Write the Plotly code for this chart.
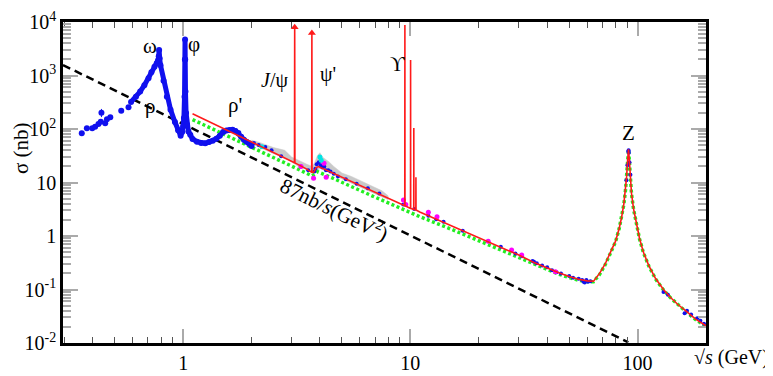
import numpy as np
import plotly.graph_objects as go

# ---------------- data ----------------
# sparse low-energy hadronic data (blue)
low_x = [0.358, 0.377, 0.398, 0.41, 0.424, 0.434, 0.437, 0.454, 0.462, 0.478, 0.534, 0.575]
low_y = [83, 103, 103, 110, 124, 137, 202, 128, 152, 165, 220, 255]
low_err = [4, 5, 5, 6, 8, 9, 35, 8, 9, 10, 12, 14]

# dense resonance region rho/omega/phi/rho' (blue)
res_x = [0.59, 0.62, 0.647, 0.675, 0.704, 0.725, 0.748, 0.765, 0.775, 0.781, 0.784, 0.788,
         0.795, 0.82, 0.848, 0.88, 0.92, 0.95, 0.975, 0.99, 1.0, 1.008, 1.014, 1.018,
         1.0195, 1.021, 1.024, 1.03, 1.04, 1.055, 1.075, 1.1, 1.15, 1.2, 1.25, 1.3, 1.35,
         1.4, 1.45, 1.5, 1.55, 1.6, 1.65, 1.7, 1.75, 1.8, 1.85, 1.9, 1.95, 2.0]
res_y = [320, 400, 500, 660, 890, 1150, 1460, 1700, 1900, 2300, 3000, 2100,
         1550, 800, 400, 230, 135, 95, 75, 88, 110, 160, 400, 2000,
         4700, 2000, 500, 200, 120, 90, 78, 65, 58, 55, 54, 57, 60,
         66, 75, 88, 94, 96, 97, 92, 84, 72, 63, 58, 54, 48]

# 3-loop pQCD prediction with narrow resonances (red)
qcd_x = [1.1, 1.3, 1.6, 2.0, 2.5, 3.0, 3.09, 3.097, 3.104, 3.5, 3.68, 3.686, 3.692, 3.75,
         3.85, 3.94, 4.5, 5.0, 6.0, 7.0, 8.0, 9.0, 9.45, 9.46, 9.47, 9.97, 10.015, 10.023,
         10.031, 10.35, 10.355, 10.36, 10.57, 10.58, 10.59, 11, 15, 20, 25, 30, 35, 40, 45,
         50, 55, 60, 64, 68, 72, 76, 80, 83, 85, 87, 88.5, 89.5, 90.3, 91.2, 92.0, 92.8,
         94, 96, 98, 102, 106, 112, 120, 130, 140, 150, 165, 180, 200]
qcd_y = [193, 137, 89, 56, 35.6, 24.4, 23.5, 8000, 23.3, 17.8, 15.5, 6200, 15.4, 15.5,
         19, 19.8, 15.3, 12.5, 8.8, 6.55, 5.06, 4.03, 3.68, 8800, 3.67, 3.3, 3.28, 1950,
         3.27, 3.13, 104, 3.12, 3.07, 12.6, 3.06, 2.81, 1.58, 0.93, 0.62, 0.44, 0.32, 0.25, 0.205,
         0.175, 0.155, 0.145, 0.143, 0.2, 0.3, 0.5, 0.8, 1.4, 2.2, 4.0, 7.5, 13, 25, 41.7, 26, 13,
         6.3, 3.2, 2.0, 0.9, 0.5, 0.28, 0.16, 0.1, 0.07, 0.053, 0.038, 0.028, 0.021]

# off-scale resonances (arrow heads)
arrow_x = [3.097, 3.686]
arrow_y = [8000, 6200]

# naive quark-parton model (green dots)
green_x = [1.1, 1.3, 1.6, 2.0, 2.5, 3.0, 3.5, 3.7, 3.8, 3.9, 4.5, 5, 6, 7, 8, 9, 10, 11, 15, 20,
           25, 30, 35, 40, 45, 50, 55, 60, 64, 68, 72, 76, 80, 83, 85, 87, 88.5, 89.5, 90.3,
           91.2, 92.0, 92.8, 94, 96, 98, 102, 106, 112, 120, 130, 140, 150, 165, 180, 200]
green_y = [150, 108, 72, 45.5, 29, 20.3, 14.8, 13.3, 14.5, 16, 12.3, 10.0, 7.1, 5.3, 4.15, 3.3,
           2.7, 2.3, 1.36, 0.81, 0.55, 0.4, 0.3, 0.235, 0.193, 0.167, 0.149, 0.14, 0.14, 0.19,
           0.29, 0.48, 0.78, 1.38, 2.15, 3.9, 7.3, 12.7, 24.5, 41, 25.5, 12.7, 6.2, 3.15, 1.97,
           0.88, 0.49, 0.275, 0.157, 0.098, 0.069, 0.052, 0.037, 0.0275, 0.0205]

# gray band of data between 2 and 8 GeV
gray_x = [2.0, 2.2, 2.5, 2.8, 3.0, 3.2, 3.5, 3.7, 3.8, 3.9, 4.0, 4.1, 4.2, 4.4, 4.6, 4.8,
          5.0, 5.5, 6.0, 6.5, 7.0, 7.5, 8.0]
gray_lo = [52, 43, 34, 28, 24, 20, 17, 15.5, 15, 16, 18, 18, 17, 15, 13.5, 12.5, 11.5, 9.5,
           8.0, 7.0, 6.0, 5.3, 4.7]
gray_hi = [62, 55, 45, 40, 30, 26, 22, 20, 24, 32, 36, 30, 28, 24, 20, 17, 15, 13, 11, 9.5,
           8.2, 7.0, 5.6]

# other data points (blue, magenta, cyan)
blue_x = [2.05, 2.15, 2.3, 2.45, 2.7, 3.3, 3.55, 3.78, 3.82, 3.87, 3.95, 4.03, 4.1, 4.18,
          4.25, 4.35, 4.45, 4.6, 4.8, 5.2, 5.8, 6.5, 7.3, 9.3, 10.4, 12, 13, 14, 17, 22, 25,
          29, 31, 34.5, 35, 36, 38, 40, 42, 44, 46, 50, 52, 55, 57, 57.8, 58.5, 59.5, 60.5,
          62, 89.3, 90.2, 91.0, 91.3, 91.5, 92.1, 93.0, 130, 136, 161, 165, 172, 183, 189, 196]
blue_y = [55, 50, 46, 40, 31, 20, 17, 16, 18, 22, 24, 21, 19, 20, 17, 17, 16, 14.5, 13,
          11.5, 9.5, 7.8, 6.2, 3.9, 3.2, 2.4, 2.05, 1.85, 1.25, 0.8, 0.63, 0.47, 0.42, 0.34,
          0.33, 0.31, 0.28, 0.26, 0.23, 0.21, 0.2, 0.178, 0.165, 0.158, 0.15, 0.14, 0.135,
          0.15, 0.14, 0.142, 11, 21, 38, 40, 36, 24, 14, 0.09, 0.08, 0.036, 0.04, 0.034,
          0.029, 0.026, 0.023]
mag_x = [3.3, 3.75, 4.17, 4.26, 9.32, 9.55, 12.0, 13.1, 22, 27.9, 30.9, 43.5]
mag_y = [20, 12, 22.9, 12.5, 4.7, 3.9, 2.77, 2.3, 0.8, 0.547, 0.44, 0.215]
cyan_x = [2.22, 4.0, 4.05]
cyan_y = [46.8, 30, 26]

# 87 nb / s reference line
dash_x = [0.296, 91]
dash_y = [1570, 0.0103]

ytick_vals = [1e-2, 1e-1, 1, 10, 100, 1e3, 1e4]
ytick_text = ["10<sup>-2</sup>", "10<sup>-1</sup>", "1", "10", "10<sup>2</sup>",
              "10<sup>3</sup>", "10<sup>4</sup>"]
xtick_vals = [1, 10, 100]
xtick_text = ["1", "10", "100"]

# ---------------- figure ----------------
# page body has an 8px margin: the figure is placed at (8, 8) in the window
OFF = 8
W, H = 765, 368
L, R, T, B = 55, 67, 14, 33
SERIF = "Liberation Serif"

fig = go.Figure()

fig.add_trace(go.Scatter(x=gray_x, y=gray_lo, mode="lines", line=dict(width=0, color="#c8c8c8"),
                         showlegend=False, hoverinfo="skip"))
fig.add_trace(go.Scatter(x=gray_x, y=gray_hi, mode="lines", line=dict(width=0.5, color="#c8c8c8"),
                         fill="tonexty", fillcolor="rgba(195,195,195,0.9)", showlegend=False))

fig.add_trace(go.Scatter(x=dash_x, y=dash_y, mode="lines",
                         line=dict(color="black", width=2.5, dash="8px,5px"), showlegend=False))

fig.add_trace(go.Scatter(x=green_x, y=green_y, mode="lines",
                         line=dict(color="#22ee22", width=3.5, dash="3px,2.5px"), showlegend=False))

fig.add_trace(go.Scatter(x=low_x, y=low_y, mode="markers",
                         marker=dict(color="#1010ee", size=6),
                         error_y=dict(type="data", array=low_err, color="#1010ee", thickness=1, width=0),
                         showlegend=False))
fig.add_trace(go.Scatter(x=res_x, y=res_y, mode="lines+markers",
                         line=dict(color="#1010ee", width=5),
                         marker=dict(color="#1010ee", size=6), showlegend=False))

fig.add_trace(go.Scatter(x=blue_x, y=blue_y, mode="markers",
                         marker=dict(color="#1010ee", size=4), showlegend=False))
fig.add_trace(go.Scatter(x=mag_x, y=mag_y, mode="markers",
                         marker=dict(color="#ff00ff", size=5), showlegend=False))
fig.add_trace(go.Scatter(x=cyan_x, y=cyan_y, mode="markers",
                         marker=dict(color="#00e5e5", size=5), showlegend=False))

fig.add_trace(go.Scatter(x=qcd_x, y=qcd_y, mode="lines",
                         line=dict(color="#ff1a1a", width=1.6), showlegend=False))
fig.add_trace(go.Scatter(x=arrow_x, y=arrow_y, mode="markers",
                         marker=dict(symbol="triangle-up", color="#ff1a1a", size=7),
                         showlegend=False))

def px(xp, yp):
    xf, yf = xp - OFF, yp - OFF
    return (xf - L) / (W - L - R), (H - B - yf) / (H - T - B)

labels = [
    ("ω", 150, 46, 21, 0),
    ("φ", 194, 44, 21, 0),
    ("ρ", 150, 106, 21, 0),
    ("ρ'", 235, 105, 21, 0),
    ("<i>J</i>/ψ", 274, 80, 20, 0),
    ("ψ'", 328, 74, 20, 0),
    ("ϒ", 397, 64, 20, 0),
    ("Z", 628, 133, 21, 0),
    ("87nb/<i>s</i>(GeV<sup>2</sup>)", 334, 209, 21, 26),
]
for txt, xp, yp, fs, ang in labels:
    xa, ya = px(xp, yp)
    fig.add_annotation(x=xa, y=ya, xref="paper", yref="paper", text=txt, showarrow=False,
                       textangle=ang, font=dict(family=SERIF, size=fs, color="black"),
                       xanchor="center", yanchor="middle")

xa, ya = px(21, 148)
fig.add_annotation(x=xa, y=ya, xref="paper", yref="paper", text="σ (nb)", showarrow=False,
                   textangle=-90, font=dict(family=SERIF, size=21, color="black"),
                   xanchor="center", yanchor="middle")
xa, ya = px(771, 358)
fig.add_annotation(x=xa, y=ya, xref="paper", yref="paper", text="√<i>s</i> (GeV)", showarrow=False,
                   font=dict(family=SERIF, size=20, color="black"),
                   xanchor="right", yanchor="middle")

fig.update_layout(
    width=W, height=H,
    margin=dict(l=L, r=R, t=T, b=B, autoexpand=False),
    paper_bgcolor="white", plot_bgcolor="white",
    showlegend=False,
    font=dict(family=SERIF, size=19, color="black"),
)
fig.update_xaxes(
    type="log", range=[np.log10(0.296), np.log10(200)], automargin=False,
    tickvals=xtick_vals, ticktext=xtick_text,
    ticks="inside", ticklen=14, tickwidth=1.5, tickcolor="#aaaaaa",
    showline=True, linecolor="black", linewidth=2.5, mirror="allticks",
    showgrid=False, zeroline=False,
    tickfont=dict(family=SERIF, size=20),
    minor=dict(ticks="inside", ticklen=6, tickwidth=1, tickcolor="#555555", dtick="D1", showgrid=False),
)
fig.update_yaxes(
    type="log", range=[-2, 4], automargin=False,
    tickvals=ytick_vals, ticktext=ytick_text,
    ticks="inside", ticklen=15, tickwidth=1.5, tickcolor="#aaaaaa",
    showline=True, linecolor="black", linewidth=2.5, mirror="allticks",
    showgrid=False, zeroline=False,
    tickfont=dict(family=SERIF, size=20),
    minor=dict(ticks="inside", ticklen=8, tickwidth=1.5, tickcolor="#aaaaaa", dtick="D1", showgrid=False),
)

fig.write_html("out.html")
